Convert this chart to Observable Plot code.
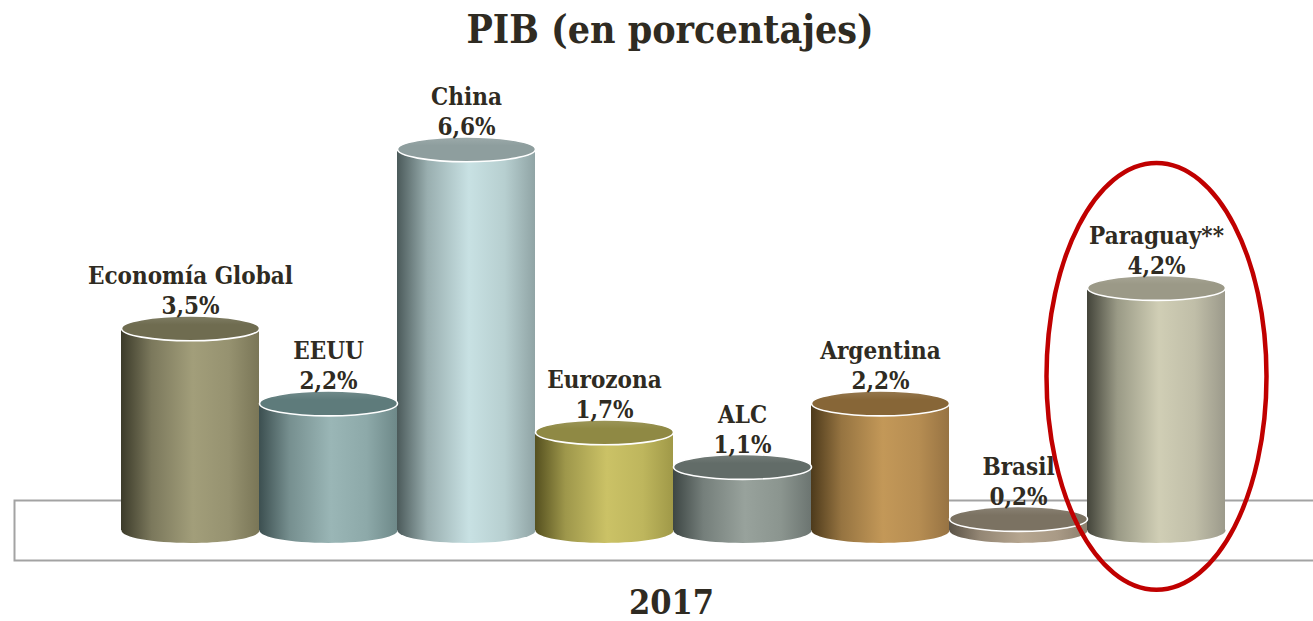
<!DOCTYPE html>
<html>
<head>
<meta charset="utf-8">
<script src="https://cdn.jsdelivr.net/npm/d3@7"></script>
<script src="https://cdn.jsdelivr.net/npm/@observablehq/plot@0.6"></script>
<style>
  html, body { margin: 0; padding: 0; background: #fff; overflow: hidden; width: 1313px; height: 621px; }
  .ttl { font-family: "DejaVu Serif Condensed", "DejaVu Serif", serif; font-stretch: condensed; font-weight: bold; color: #2f2b22; text-align: center; position: relative; }
  #title { height: 62px; line-height: 62px; font-size: 39px; padding-left: 27px; top: -2px; }
  #year { height: 43px; line-height: 43px; font-size: 34px; padding-left: 30px; padding-top: 3px; }
  #chart { position: relative; z-index: 1; }
  #chart svg { display: block; overflow: visible; }
</style>
</head>
<body>
<div id="title" class="ttl"></div>
<div id="chart"></div>
<div id="year" class="ttl"></div>
<script>
// ---- data ----
const titleText = "PIB (en porcentajes)";
const yearLabel = "2017";
const categories = ["Economía Global", "EEUU", "China", "Eurozona", "ALC", "Argentina", "Brasil", "Paraguay**"];
const values = [3.5, 2.2, 6.6, 1.7, 1.1, 2.2, 0.2, 4.2];
const highlighted = ["Paraguay**"];

// ---- styles ----
const shadeDark  = ["#3c3b2a", "#3c4f50", "#4b5a5a", "#55501f", "#3d4644", "#4d3a1b", "#5a5246", "#43443a"];
const shadeLight = ["#a29e7a", "#9ab6b6", "#c8e1e3", "#cbc266", "#98a29c", "#c39858", "#b6a690", "#d0ceb5"];
const shadeEdge  = ["#7a7657", "#6e8989", "#90a4a5", "#a09948", "#6c7571", "#977343", "#8b7f6d", "#9c9a8b"];
const shadeTop   = ["#6f6c50", "#5e7b7b", "#8e9e9e", "#8f8944", "#626c68", "#876637", "#7b7262", "#9b9987"];

const data = categories.map((name, i) => ({name, value: values[i], key: i}));
const marked = data.filter(d => highlighted.includes(d.name));

function ellipseSymbol(ratio) {
  return {
    draw(ctx, size) {
      const rx = Math.sqrt(size / Math.PI), ry = rx * ratio, k = 0.5523;
      ctx.moveTo(rx, 0);
      ctx.bezierCurveTo(rx, ry * k, rx * k, ry, 0, ry);
      ctx.bezierCurveTo(-rx * k, ry, -rx, ry * k, -rx, 0);
      ctx.bezierCurveTo(-rx, -ry * k, -rx * k, -ry, 0, -ry);
      ctx.bezierCurveTo(rx * k, -ry, rx, -ry * k, rx, 0);
      ctx.closePath();
    }
  };
}
const flatEllipse = ellipseSymbol(0.18);
const tallEllipse = ellipseSymbol(1.94);

const font = "'DejaVu Serif Condensed', 'DejaVu Serif', serif";

const svg = Plot.plot({
  width: 1313,
  height: 516,
  marginLeft: 120,
  marginRight: 88,
  marginTop: 6,
  marginBottom: 48,
  x: {type: "band", domain: categories, padding: 0, axis: null},
  y: {domain: [0, 8], axis: null},
  color: {type: "identity"},
  marks: [
    Plot.frame({stroke: "#a3a3a3", strokeWidth: 2, insetLeft: -106, insetRight: -100, insetTop: 432, insetBottom: -30}),
    Plot.dot(data, {x: "name", y: () => 0, r: 69, symbol: flatEllipse, fill: d => `url(#body${d.key})`, stroke: "none"}),
    Plot.barY(data, {x: "name", y: "value", fill: d => `url(#body${d.key})`}),
    Plot.dot(data, {x: "name", y: "value", r: 69, symbol: flatEllipse, fill: d => `url(#top${d.key})`, stroke: "#ffffff", strokeWidth: 1.6}),
    Plot.text(data, {
      x: "name", y: "value",
      text: d => `${d.name}\n${d.value.toFixed(1).replace(".", ",")}%`,
      lineAnchor: "bottom", lineHeight: 1.25, dy: -14,
      fontSize: 24, fontWeight: "bold", fontFamily: font, fill: "#2f2b22"
    }),
    Plot.dot(marked, {x: "name", y: () => 2.67, r: 110, symbol: tallEllipse, fill: "none", stroke: "#c00000", strokeWidth: 4.5})
  ]
});

const defs = d3.select(svg).insert("defs", ":first-child");
data.forEach((d, i) => {
  const dark = shadeDark[i], light = shadeLight[i], edge = shadeEdge[i];
  const g = defs.append("linearGradient").attr("id", `body${i}`).attr("x1", 0).attr("x2", 1).attr("y1", 0).attr("y2", 0);
  [[0, dark], [0.22, d3.interpolateRgb(dark, light)(0.62)], [0.52, light], [0.78, d3.interpolateRgb(light, edge)(0.3)], [1, edge]]
    .forEach(([o, c]) => g.append("stop").attr("offset", o).attr("stop-color", c));
  const t = defs.append("linearGradient").attr("id", `top${i}`).attr("x1", 0).attr("x2", 0).attr("y1", 0).attr("y2", 1);
  [[0, d3.interpolateRgb(shadeTop[i], "#ffffff")(0.12)], [0.35, shadeTop[i]], [1, shadeTop[i]]]
    .forEach(([o, c]) => t.append("stop").attr("offset", o).attr("stop-color", c));
});

document.getElementById("title").textContent = titleText;
document.getElementById("year").textContent = yearLabel;
document.getElementById("chart").appendChild(svg);
</script>
</body>
</html>
